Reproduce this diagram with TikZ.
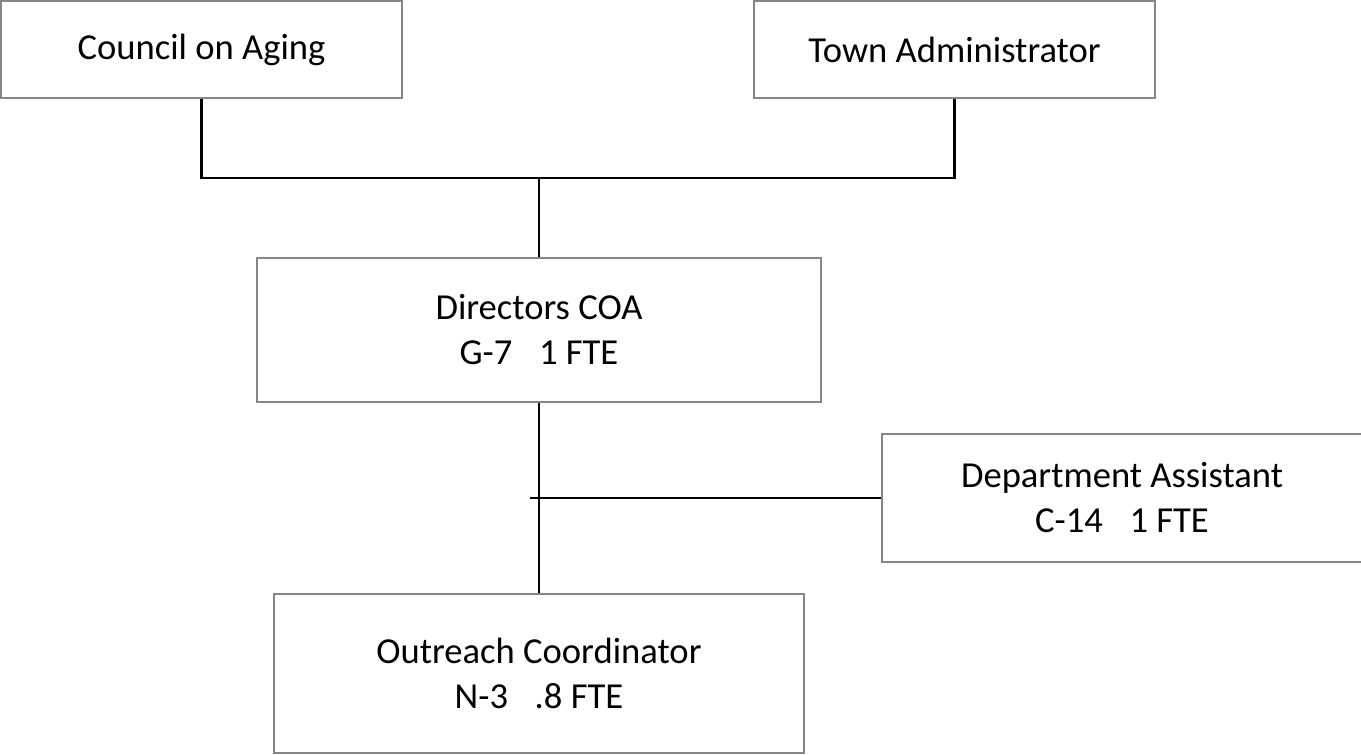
\documentclass[tikz,border=0pt]{standalone}
\usepackage{fontspec}
\setmainfont{Carlito}
\tikzset{
	unit/.style={draw=gray!95, line width=1pt, rectangle, align=center, inner sep=0pt,
		font=\fontsize{18.3}{22.5}\selectfont},
	link/.style={black, line width=1.15pt}
}
\begin{document}
\begin{tikzpicture}[x=.5pt,y=-.5pt]
		\useasboundingbox (0,0) rectangle (1361,755);
		
		\node[unit, minimum width=200.5pt, minimum height=48.5pt] (coa) at (201.5,49.5) {Council on Aging};
		\node[unit, minimum width=200.5pt, minimum height=48.5pt] (town) at (954.5,49.5) {Town Administrator};
		
		\node[unit, minimum width=282pt, minimum height=72pt] (dir) at (539,330) {Directors COA\\G-7\enspace\ 1 FTE};
		\node[unit, minimum width=240pt, minimum height=64pt] (asst) at (1122,498) {Department Assistant\\C-14\enspace\ 1 FTE};
		\node[unit, minimum width=265pt, minimum height=79.5pt] (out) at (539,673.5) {Outreach Coordinator\\N-3\enspace\ .8 FTE};
		
		\coordinate (top) at (539,178);
		\coordinate (tee) at (530,498);
		
		\draw[link] (coa.south) |- (top) -| (town.south);
		\draw[link] (top) -- (dir.north);
		\draw[link] (dir.south) -- (out.north);
		\draw[link] (tee) -- (asst.west);
\end{tikzpicture}
\end{document}
